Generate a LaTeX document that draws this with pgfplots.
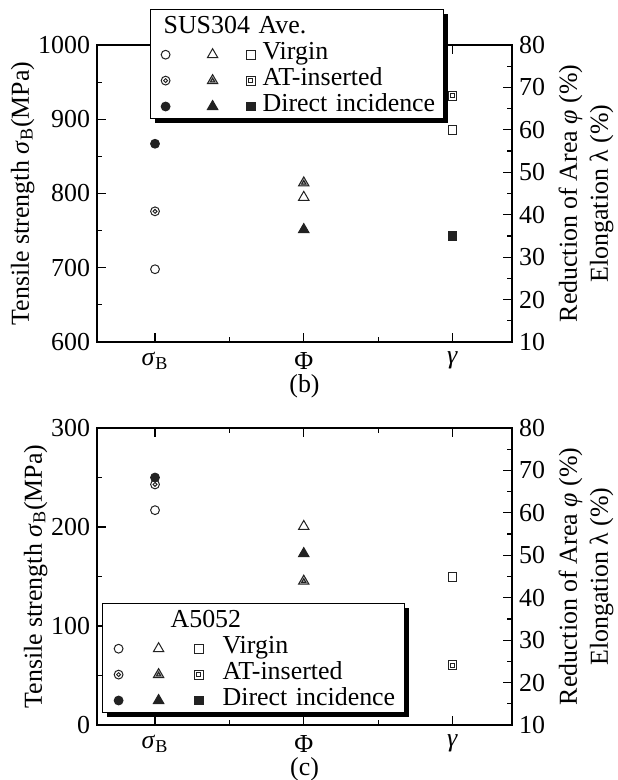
\documentclass[border=0pt]{standalone}
\usepackage{fontspec}
\setmainfont{Liberation Serif}
\usepackage{pgfplots}
\pgfplotsset{compat=1.18}
\usetikzlibrary{shadows}

\definecolor{mk}{HTML}{222222}

% double circle, double square, shaded triangle for the AT-inserted series
\pgfdeclareplotmark{dcirc}{%
  \pgfpathcircle{\pgfpointorigin}{\pgfplotmarksize}\pgfusepathqstroke
  \pgfpathcircle{\pgfpointorigin}{0.45\pgfplotmarksize}\pgfusepathqstroke}
\pgfdeclareplotmark{dsq}{%
  \pgfpathrectangle{\pgfpoint{-\pgfplotmarksize}{-\pgfplotmarksize}}{\pgfpoint{2\pgfplotmarksize}{2\pgfplotmarksize}}\pgfusepathqstroke
  \pgfpathrectangle{\pgfpoint{-0.45\pgfplotmarksize}{-0.45\pgfplotmarksize}}{\pgfpoint{0.9\pgfplotmarksize}{0.9\pgfplotmarksize}}\pgfusepathqstroke}
\pgfdeclareplotmark{dtri}{%
  \pgfpathmoveto{\pgfpoint{0pt}{\pgfplotmarksize}}
  \pgfpathlineto{\pgfpointpolar{-30}{\pgfplotmarksize}}
  \pgfpathlineto{\pgfpointpolar{210}{\pgfplotmarksize}}
  \pgfpathclose\pgfusepathqfillstroke
  \pgfpathmoveto{\pgfpoint{0pt}{0.4\pgfplotmarksize}}
  \pgfpathlineto{\pgfpointpolar{-30}{0.4\pgfplotmarksize}}
  \pgfpathlineto{\pgfpointpolar{210}{0.4\pgfplotmarksize}}
  \pgfpathclose\pgfusepathqstroke}

\newcommand\lmark[3]{\tikz[baseline=-0.55ex]{\pgfsetlinewidth{0.5bp}\pgfsetstrokecolor{mk}\pgfsetfillcolor{#1}\pgfsetplotmarksize{#3}\pgfuseplotmark{#2}}}
\newcommand\lbl{\fontsize{13}{15.5}\selectfont}

\pgfplotsset{
  panel/.style={
    scale only axis, width=207.5bp, height=148.5bp,
    xmin=-0.39, xmax=2.4,
    axis line style={line width=0.7bp},
    every tick/.style={line width=0.6bp, black},
    major tick length=4.5bp, minor tick length=2.5bp,
    tick align=inside,
    tick label style={font=\lbl},
    /pgf/number format/assume math mode=true,
    /pgf/number format/1000 sep={},
  },
  leftax/.style={panel,
    xtick={0,1,2}, minor xtick={0.5,1.5}, xtick pos=both, xticklabel pos=lower,
    xticklabels={\textit{σ}\textsubscript{B}, Φ, \textit{γ}},
    xticklabel style={yshift=-1.5bp},
    minor y tick num=1, ytick pos=left,
    ylabel={Tensile strength \textit{σ}\textsubscript{B}(MPa)},
    ylabel style={font=\lbl}, ylabel shift=-5bp,
    xlabel style={font=\lbl, at={(axis description cs:0.5,0)}, anchor=center, yshift=-22bp},
  },
  rightax/.style={panel,
    hide x axis, ymin=10, ymax=80, ytick={10,20,...,80}, minor y tick num=1,
    ytick pos=right, yticklabel pos=right, ylabel near ticks,
    ylabel={Reduction of Area \textit{φ} (\%)\\Elongation λ (\%)},
    ylabel style={align=center, font=\lbl},
  },
  vir/.style={only marks, mark size=2.2bp, mark options={draw=mk, line width=0.5bp}},
  ats/.style={only marks, mark size=2.2bp, mark options={draw=mk, fill=gray!60, line width=0.5bp}},
  dir/.style={only marks, mark size=2.2bp, mark options={draw=mk, fill=mk, line width=0.5bp}},
}

\begin{document}%
\newsavebox\mOa\sbox\mOa{\lmark{white}{o}{2.2bp}}%
\newsavebox\mOb\sbox\mOb{\lmark{white}{dcirc}{2.2bp}}%
\newsavebox\mOc\sbox\mOc{\lmark{mk}{*}{2.2bp}}%
\newsavebox\mTa\sbox\mTa{\lmark{white}{triangle}{3bp}}%
\newsavebox\mTb\sbox\mTb{\lmark{gray!60}{dtri}{3bp}}%
\newsavebox\mTc\sbox\mTc{\lmark{mk}{triangle*}{3bp}}%
\newsavebox\mSa\sbox\mSa{\lmark{white}{square}{2.2bp}}%
\newsavebox\mSb\sbox\mSb{\lmark{white}{dsq}{2.2bp}}%
\newsavebox\mSc\sbox\mSc{\lmark{mk}{square*}{2.2bp}}%
\begin{tikzpicture}

% ---- (b) SUS304 ----
\begin{axis}[leftax, at={(48.5bp,-22.5bp)}, anchor=north west,
  ymin=600, ymax=1000, ytick={600,700,...,1000}, xlabel={(b)}]
\addplot[vir, mark=o] coordinates {(0,698)};
\addplot[ats, mark=dcirc] coordinates {(0,776)};
\addplot[dir, mark=*] coordinates {(0,867)};
\end{axis}
\begin{axis}[rightax, at={(48.5bp,-22.5bp)}, anchor=north west]
\addplot[vir, mark=triangle, mark size=3bp] coordinates {(1,44.1)};
\addplot[ats, mark=dtri, mark size=3bp] coordinates {(1,47.5)};
\addplot[dir, mark=triangle*, mark size=3bp] coordinates {(1,36.5)};
\addplot[vir, mark=square] coordinates {(2,60.0)};
\addplot[ats, mark=dsq] coordinates {(2,68.0)};
\addplot[dir, mark=square*] coordinates {(2,34.9)};
\end{axis}

% ---- (c) A5052 ----
\begin{axis}[leftax, at={(48.5bp,-214bp)}, anchor=north west,
  ymin=0, ymax=300, ytick={0,100,200,300}, xlabel={(c)}]
\addplot[vir, mark=o] coordinates {(0,217)};
\addplot[ats, mark=dcirc] coordinates {(0,243)};
\addplot[dir, mark=*] coordinates {(0,250)};
\end{axis}
\begin{axis}[rightax, at={(48.5bp,-214bp)}, anchor=north west]
\addplot[vir, mark=triangle, mark size=3bp] coordinates {(1,56.8)};
\addplot[ats, mark=dtri, mark size=3bp] coordinates {(1,43.9)};
\addplot[dir, mark=triangle*, mark size=3bp] coordinates {(1,50.4)};
\addplot[vir, mark=square] coordinates {(2,44.8)};
\addplot[ats, mark=dsq] coordinates {(2,24.1)};
\end{axis}

% legends
\node[draw=black, line width=0.6bp, fill=white, anchor=north west, inner xsep=0pt, inner ysep=3.5bp,
  text width=146.5bp, align=left, font=\fontsize{13}{13}\selectfont,
  drop shadow={shadow xshift=2bp, shadow yshift=-2bp, fill=black, opacity=1}]
  at (75bp,-4.5bp) {\hspace*{6.5bp}SUS304 Ave.\\
  \makebox[15bp]{\usebox\mOa}\makebox[32bp]{\usebox\mTa}\makebox[6bp]{\usebox\mSa}\hspace{3bp}Virgin\\
  \makebox[15bp]{\usebox\mOb}\makebox[32bp]{\usebox\mTb}\makebox[6bp]{\usebox\mSb}\hspace{3bp}AT-inserted\\
  \makebox[15bp]{\usebox\mOc}\makebox[32bp]{\usebox\mTc}\makebox[6bp]{\usebox\mSc}\hspace{3bp}Direct incidence};

\node[draw=black, line width=0.6bp, fill=white, anchor=north west, inner xsep=0pt, inner ysep=3.5bp,
  text width=151bp, align=left, font=\fontsize{13}{13}\selectfont,
  drop shadow={shadow xshift=2bp, shadow yshift=-2bp, fill=black, opacity=1}]
  at (51bp,-301.5bp) {\hspace*{34bp}A5052\\
  \makebox[16bp]{\usebox\mOa}\makebox[24bp]{\usebox\mTa}\makebox[16bp]{\usebox\mSa}\hspace{4bp}Virgin\\
  \makebox[16bp]{\usebox\mOb}\makebox[24bp]{\usebox\mTb}\makebox[16bp]{\usebox\mSb}\hspace{4bp}AT-inserted\\
  \makebox[16bp]{\usebox\mOc}\makebox[24bp]{\usebox\mTc}\makebox[16bp]{\usebox\mSc}\hspace{4bp}Direct incidence};

\pgfresetboundingbox
\useasboundingbox (0,0) rectangle (309bp,-390bp);
\end{tikzpicture}%
\end{document}
